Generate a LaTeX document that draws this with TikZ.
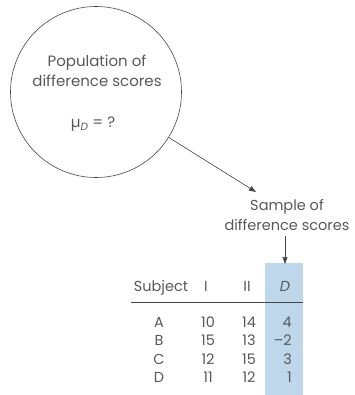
\documentclass[tikz,border=0pt]{standalone}
\usepackage{fontspec}
\setmainfont{Poppins}
\usetikzlibrary{arrows.meta}
\definecolor{txt}{RGB}{88,88,88}
\definecolor{ln}{RGB}{70,70,70}
\definecolor{colbg}{RGB}{190,215,235}
\begin{document}
\begin{tikzpicture}[x=1pt,y=-1pt,
  lbl/.style={text=txt,font=\fontsize{15}{20}\selectfont,inner sep=0pt,align=center,anchor=base},
  cell/.style={text=txt,font=\fontsize{14.5}{18}\selectfont,inner sep=0pt,anchor=base},
  cellr/.style={text=txt,font=\fontsize{14.5}{18}\selectfont,inner sep=0pt,anchor=base east},
  conn/.style={draw=ln,line width=0.6pt,-{Triangle[length=7pt,width=5pt]}}]
\useasboundingbox (0,0) rectangle (354,395);
% blue column
\fill[colbg] (265,263) rectangle (303,395);
% population circle
\node[circle,draw=ln,line width=0.6pt,minimum size=171pt,inner sep=0pt] (pop) at (96,92) {};
\node[lbl] (poptxt) at (97,87) {Population of\\difference scores};
\node[lbl] (mu) at (93,128) {µ\textsubscript{\itshape D} = ?};
% sample
\node[lbl,font=\fontsize{14.5}{20}\selectfont] (samp) at (287,230) {Sample of\\difference scores};
\coordinate (sa) at (256,192);
\draw[conn] (pop) -- (sa);
% table header
\node[cell] (hs) at (161,291) {Subject};
\node[cell] (h1) at (206,291) {I};
\node[cell] (h2) at (247,291) {II};
\node[cell] (hd) at (285,291) {\itshape D};
\coordinate (dtop) at (285,236);
\coordinate (dbot) at (285,264);
\draw[conn] (dtop) -- (dbot);
\draw[ln,line width=0.6pt] (131,302) coordinate (rl) -- (303,302) coordinate (rr);
% rows
\foreach \s/\a/\b/\d [count=\i] in {A/10/14/4,B/15/13/{–2},C/12/15/3,D/11/12/1}{
  \pgfmathsetmacro{\yy}{327.5+(\i-1)*18.3}
  \node[cell] (s\i) at (159,\yy) {\s};
  \node[cell] (a\i) at (208,\yy) {\a};
  \node[cell] (b\i) at (249,\yy) {\b};
  \node[cellr] (d\i) at (292,\yy) {\d};
}
\end{tikzpicture}
\end{document}
